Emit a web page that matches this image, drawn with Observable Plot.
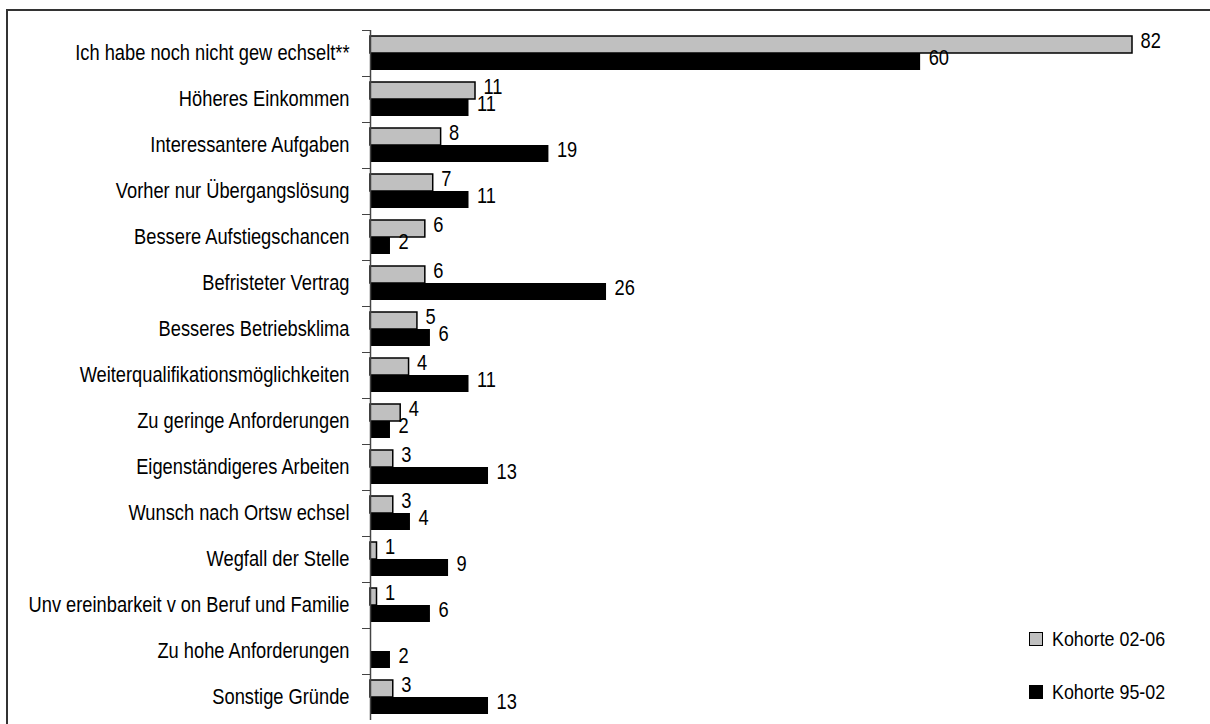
<!DOCTYPE html>
<html>
<head>
<meta charset="utf-8">
<script src="https://cdn.jsdelivr.net/npm/d3@7"></script>
<script src="https://cdn.jsdelivr.net/npm/@observablehq/plot@0.6"></script>
<style>
  html, body { margin: 0; padding: 0; background: #fff; overflow: hidden; }
  #wrap { position: relative; width: 1210px; height: 724px; }
  #frame { position: absolute; left: 6px; top: 9px; width: 1220px; height: 800px;
           border-left: 2px solid #333; border-top: 2px solid #333; pointer-events: none; }
  #legend { position: absolute; left: 1029px; top: 630px;
            font-family: "Liberation Sans", Arial, sans-serif;
            font-size: 21px; color: #000; }
  .item { display: flex; align-items: center; height: 18px; margin-bottom: 35px; white-space: nowrap; }
  .sw { width: 12px; height: 12px; margin-right: 9px; flex: none; }
  .lab { display: inline-block; transform: scaleX(0.85); transform-origin: left center; }
</style>
</head>
<body>
<div id="wrap">
  <div id="chart"></div>
  <div id="frame"></div>
  <div id="legend"></div>
</div>
<script>
const categories = [
  "Ich habe noch nicht gew echselt**",
  "Höheres Einkommen",
  "Interessantere Aufgaben",
  "Vorher nur Übergangslösung",
  "Bessere Aufstiegschancen",
  "Befristeter Vertrag",
  "Besseres Betriebsklima",
  "Weiterqualifikationsmöglichkeiten",
  "Zu geringe Anforderungen",
  "Eigenständigeres Arbeiten",
  "Wunsch nach Ortsw echsel",
  "Wegfall der Stelle",
  "Unv ereinbarkeit v on Beruf und Familie",
  "Zu hohe Anforderungen",
  "Sonstige Gründe"
];
const seriesNames = ["Kohorte 02-06", "Kohorte 95-02"];
// bar lengths (percent)
const kohorte0206 = [82, 11.3, 7.6, 6.75, 5.9, 5.9, 5.05, 4.15, 3.25, 2.45, 2.45, 0.7, 0.7, null, 2.45];
const kohorte9502 = [59.2, 10.6, 19.2, 10.6, 2.15, 25.4, 6.45, 10.6, 2.15, 12.7, 4.3, 8.4, 6.45, 2.15, 12.7];
// printed value labels
const labels0206 = ["82", "11", "8", "7", "6", "6", "5", "4", "4", "3", "3", "1", "1", null, "3"];
const labels9502 = ["60", "11", "19", "11", "2", "26", "6", "11", "2", "13", "4", "9", "6", "2", "13"];
const seriesFill = ["#c0c0c0", "#000000"];

const rows = [];
categories.forEach((c, i) => {
  if (kohorte0206[i] != null) rows.push({category: c, series: seriesNames[0], value: kohorte0206[i], label: labels0206[i]});
  rows.push({category: c, series: seriesNames[1], value: kohorte9502[i], label: labels9502[i]});
});

const W = 1210, H = 724, mt = 30, mb = 4;
const band = (H - mt - mb) / categories.length;
const font = '"Liberation Sans", Arial, sans-serif';
const fs = 21.5;
const squeeze = 0.85;

const chart = Plot.plot({
  width: W,
  height: H,
  marginLeft: 370,
  marginRight: 78,
  marginTop: mt,
  marginBottom: mb,
  style: {fontFamily: font, fontSize: fs + "px", color: "#000", background: "transparent"},
  x: {domain: [0, 82], axis: null},
  fy: {domain: categories, padding: 0, label: null},
  y: {domain: seriesNames, paddingInner: 0, paddingOuter: 0.28, axis: null},
  color: {domain: seriesNames, range: seriesFill},
  marks: [
    Plot.barX(rows, {
      x: "value", y: "series", fy: "category",
      fill: "series",
      stroke: d => d.series === seriesNames[0] ? "#000" : "none",
      strokeWidth: 1.5
    }),
    Plot.ruleX([0], {stroke: "#444", strokeWidth: 1.5}),
    Plot.text(rows, {
      x: "value", y: "series", fy: "category",
      text: "label",
      textAnchor: "start", dx: 8, dy: -4,
      fontSize: fs, fill: "#000"
    }),
    Plot.axisFy({anchor: "left", tickSize: 0, tickPadding: 21, label: null, fontSize: fs}),
    Plot.axisFy({anchor: "left", tickSize: 8, tickFormat: () => "", label: null, dy: -band / 2, stroke: "#444"})
  ]
});
document.getElementById("chart").appendChild(chart);

// condense text horizontally (narrow face look) without touching positions
chart.querySelectorAll("text").forEach(t => {
  if (!t.textContent) return;
  const len = t.getComputedTextLength();
  if (len > 0) {
    t.setAttribute("textLength", (len * squeeze).toFixed(2));
    t.setAttribute("lengthAdjust", "spacingAndGlyphs");
  }
});

const legend = document.getElementById("legend");
seriesNames.forEach((s, i) => {
  const item = document.createElement("div");
  item.className = "item";
  const sw = document.createElement("div");
  sw.className = "sw";
  sw.style.background = seriesFill[i];
  sw.style.border = "1.5px solid #000";
  const t = document.createElement("span");
  t.className = "lab";
  t.textContent = s;
  item.appendChild(sw);
  item.appendChild(t);
  legend.appendChild(item);
});
</script>
</body>
</html>
